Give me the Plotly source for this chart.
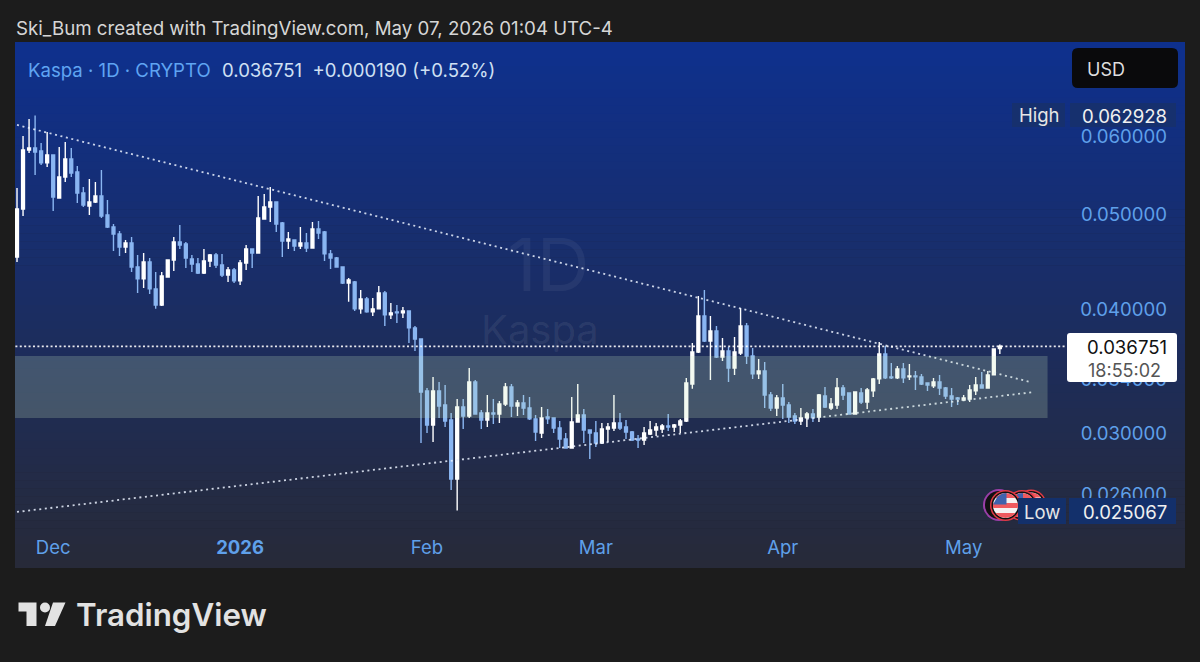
import numpy as np
import pandas as pd
import plotly.graph_objects as go

dates = pd.date_range("2025-11-25", "2026-05-07", freq="D")

opens = [.04526,.05062,.05808,.05835,.05795,.05635,.05740,.05193,.05453,.05687,
.05518,.05254,.05097,.05145,.05217,.04991,.04854,.04775,.04632,.04676,
.04421,.04300,.04473,.04201,.04047,.04320,.04494,.04687,.04665,.04505,
.04452,.04360,.04484,.04547,.04442,.04340,.04391,.04280,.04462,.04611,
.04568,.04945,.05085,.05145,.04900,.04698,.04709,.04643,.04676,.04622,
.04831,.04798,.04558,.04515,.04421,.04260,.04270,.04010,.04104,.03982,
.04010,.04162,.03954,.03982,.03973,.03991,.03836,.03738,.03312,.03059,
.03312,.03205,.03095,.02697,.03190,.03124,.03382,.03146,.03095,.03146,
.03139,.03213,.03343,.03198,.03220,.03183,.03103,.03003,.03117,.03110,
.03038,.02961,.02899,.03081,.03131,.03024,.03003,.02933,.03031,.03038,
.03073,.03045,.03010,.02961,.02954,.02996,.03024,.03031,.03052,.03045,
.03059,.03088,.03366,.03627,.03944,.03721,.03809,.03585,.03635,.03494,
.03618,.03853,.03593,.03446,.03470,.03281,.03183,.03258,.03205,.03124,
.03088,.03110,.03139,.03117,.03273,.03183,.03205,.03335,.03296,.03139,
.03296,.03228,.03312,.03406,.03610,.03422,.03414,.03486,.03422,.03430,
.03422,.03374,.03351,.03382,.03335,.03273,.03258,.03243,.03250,.03312,
.03358,.03335,.03438,.036561]

highs = [.05316,.06000,.06242,.062928,.05903,.06056,.05740,.05848,.05917,.05835,
.05595,.05328,.05428,.05391,.05544,.05169,.04888,.04809,.04709,.04742,
.04547,.04568,.04515,.04370,.04370,.04494,.04742,.04876,.04687,.04547,
.04515,.04611,.04558,.04568,.04558,.04421,.04411,.04494,.04654,.04611,
.05217,.05242,.05328,.05145,.04911,.04798,.04709,.04854,.04786,.04911,
.04922,.04809,.04600,.04526,.04421,.04310,.04280,.04191,.04123,.04114,
.04230,.04181,.04066,.04047,.04028,.03991,.03853,.03738,.03335,.03422,
.03382,.03358,.03146,.03250,.03250,.03494,.03398,.03168,.03281,.03250,
.03235,.03374,.03366,.03243,.03281,.03266,.03131,.03190,.03175,.03110,
.03088,.03003,.03266,.03366,.03175,.03024,.03088,.03073,.03073,.03281,
.03146,.03095,.03017,.02989,.03045,.03088,.03073,.03066,.03139,.03066,
.03103,.03414,.03704,.04133,.04191,.03944,.03853,.03747,.03670,.03756,
.04019,.03881,.03661,.03568,.03543,.03304,.03281,.03366,.03228,.03146,
.03183,.03153,.03175,.03289,.03343,.03258,.03414,.03358,.03296,.03304,
.03335,.03335,.03414,.03713,.03678,.03535,.03510,.03535,.03527,.03470,
.03446,.03374,.03414,.03438,.03343,.03335,.03266,.03281,.03358,.03422,
.03462,.03470,.03652,.03690]

lows = [.04473,.04980,.05767,.05479,.05608,.05582,.05038,.05193,.05391,.05453,
.05133,.05085,.04991,.05133,.04957,.04843,.04590,.04536,.04568,.04370,
.04162,.04211,.04152,.04010,.04037,.04320,.04380,.04611,.04411,.04370,
.04350,.04350,.04421,.04411,.04320,.04270,.04260,.04240,.04391,.04411,
.04568,.04945,.04911,.04798,.04526,.04611,.04590,.04611,.04579,.04622,
.04720,.04484,.04401,.04421,.04250,.04076,.03991,.03964,.03973,.03944,
.04010,.03853,.03917,.03881,.03926,.03704,.03635,.02933,.03003,.02940,
.03110,.03045,.02629,.025067,.03031,.03110,.03139,.03031,.03045,.03066,
.03073,.03198,.03117,.03124,.03131,.03095,.02947,.02968,.03066,.03003,
.02899,.02899,.02899,.03081,.02933,.02826,.02906,.02927,.02940,.03017,
.03024,.02961,.02947,.02899,.02920,.02989,.02982,.03003,.03017,.03010,
.03003,.03081,.03328,.03618,.03713,.03398,.03577,.03551,.03382,.03438,
.03601,.03527,.03406,.03406,.03183,.03160,.03124,.03103,.03073,.03066,
.03059,.03045,.03081,.03081,.03183,.03168,.03175,.03243,.03139,.03139,
.03213,.03175,.03266,.03366,.03406,.03406,.03406,.03374,.03398,.03320,
.03358,.03312,.03335,.03281,.03250,.03190,.03205,.03235,.03228,.03281,
.03335,.03335,.03438,.03610]

closes = [.05062,.05808,.05835,.05781,.05635,.05740,.05205,.05453,.05687,.05505,
.05254,.05109,.05145,.05217,.04980,.04854,.04775,.04632,.04676,.04421,
.04300,.04473,.04201,.04047,.04330,.04494,.04687,.04654,.04515,.04452,
.04360,.04484,.04547,.04442,.04340,.04391,.04280,.04462,.04611,.04568,
.04957,.05085,.05145,.04888,.04698,.04720,.04643,.04676,.04622,.04831,
.04786,.04558,.04515,.04421,.04260,.04290,.04010,.04104,.03982,.04010,
.04162,.03954,.03973,.03973,.03991,.03836,.03738,.03304,.03059,.03312,
.03198,.03088,.02697,.03190,.03124,.03382,.03139,.03095,.03146,.03139,
.03213,.03343,.03198,.03220,.03183,.03103,.03010,.03110,.03103,.03038,
.02961,.02899,.03081,.03131,.03024,.03003,.02933,.03031,.03045,.03073,
.03038,.03010,.02954,.02954,.03003,.03024,.03045,.03052,.03045,.03059,
.03088,.03374,.03627,.03944,.03721,.03809,.03585,.03635,.03494,.03627,
.03853,.03593,.03446,.03470,.03281,.03183,.03258,.03205,.03117,.03088,
.03110,.03139,.03110,.03281,.03190,.03213,.03335,.03281,.03139,.03304,
.03228,.03320,.03406,.03610,.03414,.03414,.03486,.03414,.03430,.03422,
.03366,.03358,.03382,.03335,.03273,.03250,.03250,.03258,.03320,.03358,
.03335,.03438,.03652,.036751]

upper_trend_dates = ["2025-11-25", "2026-05-12"]
upper_trend_prices = [.06156, .03382]
lower_trend_dates = ["2025-11-25", "2026-05-12 19:00"]
lower_trend_prices = [.02498, .03304]
last_line_dates = ["2025-11-24", "2026-05-18"]
last_line_prices = [.036751, .036751]
zone_dates = ["2025-11-20", "2026-05-14 22:00"]
zone_prices = [.03110, .03593]

y_tick_vals = [.06, .05, .04, .034, .03, .026]
y_tick_text = ["0.060000", "0.050000", "0.040000", "0.034000", "0.030000", "0.026000"]
x_tick_vals = ["2025-12-01", "2026-01-01", "2026-02-01", "2026-03-01", "2026-04-01", "2026-05-01"]
x_tick_text = ["Dec", "<b>2026</b>", "Feb", "Mar", "Apr", "May"]

PAGE = "#1c1c1c"
UP = "#ffffff"
DOWN = "#8ab6f2"
TICK = "#5fa0ea"
FONT = "Inter"


def PX(x):
    return (x - 15) / 1170


def PY(y):
    return (568 - y) / 526


def rect(x0, y0, x1, y1, fill, layer="above"):
    return dict(type="rect", xref="paper", yref="paper", x0=PX(x0), x1=PX(x1), y0=PY(y0), y1=PY(y1),
                fillcolor=fill, line_width=0, layer=layer)


def rrect(x0, y0, x1, y1, r, fill):
    p = (f"M {PX(x0+r)} {PY(y0)} L {PX(x1-r)} {PY(y0)} Q {PX(x1)} {PY(y0)} {PX(x1)} {PY(y0+r)} "
         f"L {PX(x1)} {PY(y1-r)} Q {PX(x1)} {PY(y1)} {PX(x1-r)} {PY(y1)} "
         f"L {PX(x0+r)} {PY(y1)} Q {PX(x0)} {PY(y1)} {PX(x0)} {PY(y1-r)} "
         f"L {PX(x0)} {PY(y0+r)} Q {PX(x0)} {PY(y0)} {PX(x0+r)} {PY(y0)} Z")
    return dict(type="path", xref="paper", yref="paper", path=p, fillcolor=fill, line_width=0, layer="above")


def circle(cx, cy, r, fill):
    return dict(type="circle", xref="paper", yref="paper", x0=PX(cx-r), x1=PX(cx+r), y0=PY(cy+r), y1=PY(cy-r),
                fillcolor=fill, line_width=0, layer="above")


def poly(points, fill):
    p = "M " + " L ".join(f"{PX(a)} {PY(b)}" for a, b in points) + " Z"
    return dict(type="path", xref="paper", yref="paper", path=p, fillcolor=fill, line_width=0, layer="above")


def band(cx, cy, r, y0, y1, fill="#ef5a5f"):
    ys = np.linspace(y0, y1, 6)
    right = [(cx + np.sqrt(max(r*r-(v-cy)**2, 0)), v) for v in ys]
    left = [(cx - np.sqrt(max(r*r-(v-cy)**2, 0)), v) for v in ys[::-1]]
    return poly(right + left, fill)


def flag(cx, cy):
    r = 12.5
    out = [circle(cx, cy, 15.5, "#e23a46"), circle(cx, cy, 14, "#111111"), circle(cx, cy, r, "#f6f2f2")]
    for k in (0, 2, 4):
        y0 = cy - r + k * 5
        out.append(band(cx, cy, r, y0, min(y0 + 5, cy + r)))
    chord = np.sqrt(r*r - 1)
    out.append(poly([(cx - chord, cy - 1), (cx - 8, cy - 9), (cx - 3, cy - 12), (cx + 1, cy - r), (cx + 1, cy - 1)], "#3f62ad"))
    return out


shapes = []
# panel gradient
top_c = np.array([14, 48, 142])
bot_c = np.array([39, 42, 56])
for i in range(66):
    y0 = 42 + i * 526 / 66
    y1 = 42 + (i + 1) * 526 / 66 + 0.5
    c = top_c + (bot_c - top_c) * (i + 0.5) / 66
    shapes.append(rect(y0=y0, y1=min(y1, 568), x0=15, x1=1185, fill=f"rgb({c[0]:.0f},{c[1]:.0f},{c[2]:.0f})", layer="below"))

# shaded zone
shapes.append(dict(type="rect", xref="x", yref="y", x0=zone_dates[0], x1=zone_dates[1],
                   y0=zone_prices[0], y1=zone_prices[1], fillcolor="rgba(200,230,190,0.22)",
                   line_width=0, layer="above"))

# right side tags
shapes.append(rrect(1072, 48, 1178, 88, 6, "#0a0a0c"))
shapes.append(rect(1012, 103, 1065, 127, "#16306e"))
shapes.append(rect(1070, 103, 1176, 127, "#16306e"))
shapes.append(rrect(1067, 333, 1177, 382, 3, "#ffffff"))

# event icons
shapes += flag(1031, 505)
shapes += flag(1022, 505.5)
shapes.append(circle(999, 505, 16, "#9a3fa8"))
shapes.append(circle(999, 505, 14, "#111111"))
shapes += flag(1005.5, 505.5)
shapes.append(rect(1018, 498, 1066, 524, "#13306b"))
shapes.append(rect(1069, 498, 1176, 524, "#13306b"))

# logo
LOGO = "#e2e2e2"
shapes.append(poly([(18.5, 602.5), (36.5, 602.5), (36.5, 626), (26.5, 626), (26.5, 611.5), (18.5, 611.5)], LOGO))
shapes.append(circle(45, 607.5, 5, LOGO))
shapes.append(poly([(53, 602.5), (65.5, 602.5), (55, 626), (45, 626)], LOGO))


def note(x, y, text, size, color, anchor="left", weight=None):
    return dict(xref="paper", yref="paper", x=PX(x), y=PY(y), text=text, showarrow=False, xanchor=anchor,
                yanchor="middle", font=dict(family=FONT, size=size, color=color, weight=weight))


annotations = [
    note(14, 28, "Ski_Bum created with TradingView.com, May 07, 2026 01:04 UTC-4", 18.7, "#d6d6d6"),
    note(26, 70, "Kaspa · 1D · CRYPTO", 18.6, "#5fa4f2"),
    note(220, 70, "0.036751  +0.000190 (+0.52%)", 18.6, "#cfe0f4"),
    note(548, 264, "1D", 73, "rgba(255,255,255,0.055)", "center"),
    note(540, 329, "Kaspa", 40, "rgba(255,255,255,0.075)", "center"),
    note(1085, 69, "USD", 18, "#dedede"),
    note(1017, 115, "High", 18.5, "#e6e6e6"),
    note(1169, 116, "0.062928", 18.6, "#f0f0f0", "right"),
    note(1169, 347, "0.036751", 18.6, "#111111", "right"),
    note(1163, 370, "18:55:02", 18, "#555555", "right"),
    note(1022, 512, "Low", 18.5, "#e6e6e6"),
    note(1169, 512, "0.025067", 18.6, "#f0f0f0", "right"),
    note(74, 615, "TradingView", 31.3, LOGO, weight=600),
]

fig = go.Figure()
fig.add_trace(go.Candlestick(
    x=dates, open=opens, high=highs, low=lows, close=closes,
    increasing=dict(line=dict(color=UP, width=1.4), fillcolor=UP),
    decreasing=dict(line=dict(color=DOWN, width=1.4), fillcolor=DOWN),
    whiskerwidth=0, hoverinfo="skip", showlegend=False,
))
trend_dot = dict(color="rgba(235,242,255,0.85)", width=1.8, dash="2px,3.6px")
last_dot = dict(color="rgba(255,255,255,0.9)", width=1.8, dash="2px,2.4px")
fig.add_trace(go.Scatter(x=upper_trend_dates, y=upper_trend_prices, mode="lines", line=trend_dot, showlegend=False, hoverinfo="skip"))
fig.add_trace(go.Scatter(x=lower_trend_dates, y=lower_trend_prices, mode="lines", line=trend_dot, showlegend=False, hoverinfo="skip"))
fig.add_trace(go.Scatter(x=last_line_dates, y=last_line_prices, mode="lines", line=last_dot, showlegend=False, hoverinfo="skip"))

fig.update_layout(
    width=1200, height=662,
    margin=dict(l=15, r=15, t=42, b=94, pad=0),
    paper_bgcolor=PAGE, plot_bgcolor="rgba(0,0,0,0)",
    showlegend=False, boxgap=0.32,
    shapes=shapes, annotations=annotations,
    font=dict(family=FONT),
    xaxis=dict(
        type="date", range=["2025-11-24 16:00", "2026-06-06 17:00"],
        rangeslider=dict(visible=False), showgrid=False, zeroline=False, showline=False, ticks="",
        tickmode="array", tickvals=x_tick_vals, ticktext=x_tick_text,
        ticklabelposition="inside", ticklabelstandoff=7,
        tickfont=dict(family=FONT, size=18.5, color=TICK),
    ),
    yaxis=dict(
        type="log", side="right", range=[-1.65918, -1.12669],
        showgrid=False, zeroline=False, showline=False, ticks="",
        tickmode="array", tickvals=y_tick_vals, ticktext=y_tick_text,
        ticklabelposition="inside", ticklabelstandoff=15,
        tickfont=dict(family=FONT, size=18.6, color=TICK),
    ),
)

fig.write_html("out.html", config=dict(displayModeBar=False),
               post_script="document.body.style.margin='0';document.body.style.background='#1c1c1c';")
